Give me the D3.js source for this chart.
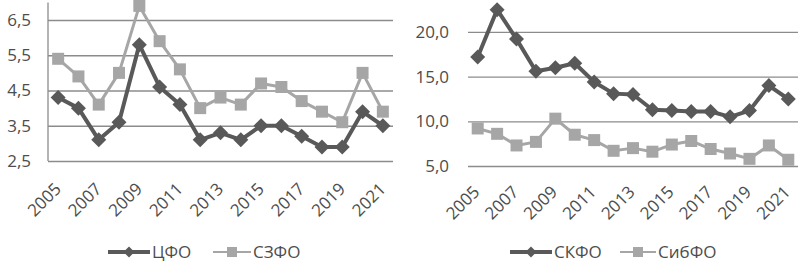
<!DOCTYPE html>
<html><head><meta charset="utf-8">
<script src="https://cdn.jsdelivr.net/npm/d3@7"></script>
<style>body{margin:0;background:#fff}svg{display:block}text{font-family:"Open Sans",sans-serif;fill:#4d4d4d}</style>
</head><body><svg id="c" width="798" height="262"></svg>
<script>
const years = [2005,2006,2007,2008,2009,2010,2011,2012,2013,2014,2015,2016,2017,2018,2019,2020,2021];
const yearLabels = [2005,2007,2009,2011,2013,2015,2017,2019,2021];
const cfo  = [4.3,4.0,3.1,3.6,5.8,4.6,4.1,3.1,3.3,3.1,3.5,3.5,3.2,2.9,2.9,3.9,3.5];
const szfo = [5.4,4.9,4.1,5.0,6.9,5.9,5.1,4.0,4.3,4.1,4.7,4.6,4.2,3.9,3.6,5.0,3.9];
const skfo = [17.2,22.5,19.2,15.6,16.0,16.5,14.4,13.1,13.0,11.3,11.2,11.1,11.1,10.5,11.2,14.0,12.5];
const sibfo= [9.2,8.6,7.3,7.7,10.3,8.5,7.9,6.7,7.0,6.6,7.4,7.8,6.9,6.4,5.8,7.3,5.7];
const leftTicks = [2.5,3.5,4.5,5.5,6.5];
const rightTicks = [5,10,15,20];
const names = {cfo:"ЦФО", szfo:"СЗФО", skfo:"СКФО", sibfo:"СибФО"};

const DARK="#595959", LIGHT="#a6a6a6", GRID="#8c8c8c";
const svg = d3.select("#c");
const fmt = v => d3.format(".1f")(v).replace(".", ",");
const diamond = r => `M0,${-r}L${r},0L0,${r}L${-r},0Z`;
const square = r => `M${-r},${-r}H${r}V${r}H${-r}Z`;

function chart(o){
  const x = d3.scaleBand().domain(years).range(o.xr).padding(0);
  const y = d3.scaleLinear().domain(o.yd).range(o.yr);
  const cx = d => x(d)+x.bandwidth()/2;
  const g = svg.append("g");
  const ga = g.append("g").attr("transform",`translate(${o.xr[0]},0)`)
    .call(d3.axisLeft(y).tickValues(o.ticks).tickSize(-(o.xr[1]-o.xr[0])).tickPadding(o.tp).tickFormat(fmt));
  ga.select(".domain").remove();
  ga.selectAll(".tick line").attr("stroke",GRID).attr("stroke-width",1.3);
  ga.selectAll(".tick text").style("font-size","17px").attr("fill","#4d4d4d");
  if(o.vaxis){
    g.append("line").attr("x1",o.xr[0]).attr("x2",o.xr[0]).attr("y1",y(o.yd[1])).attr("y2",y(o.yd[0])).attr("stroke",GRID).attr("stroke-width",1.3);
  }
  g.selectAll(".xl").data(yearLabels).join("text")
    .attr("transform",d=>`translate(${cx(d)+o.lx},${y(o.yd[0])+o.ly}) rotate(-45)`)
    .attr("text-anchor","end").style("font-size","17px").text(d=>d);
  const line = d3.line().x((d,i)=>cx(years[i])).y(d=>y(d));
  o.series.forEach(s=>{
    g.append("path").datum(s.v).attr("d",line).attr("fill","none").attr("stroke",s.c).attr("stroke-width",s.w).attr("stroke-linejoin","round");
    g.selectAll(null).data(s.v).join("path")
      .attr("transform",(d,i)=>`translate(${cx(years[i])},${y(d)})`)
      .attr("d",s.m).attr("fill",s.c);
  });
  o.legend.forEach(l=>{
    const lg = g.append("g").attr("transform",`translate(${l.x},${l.y})`);
    lg.append("line").attr("x1",0).attr("x2",l.len).attr("stroke",l.c).attr("stroke-width",l.w);
    lg.append("path").attr("transform",`translate(${l.len/2},0)`).attr("d",l.m).attr("fill",l.c);
    lg.append("text").attr("x",l.len+2).attr("y",6).style("font-size","17px").text(l.t);
  });
}

chart({xr:[48,393], yd:[2.5,7.0], yr:[161,2.4], ticks:leftTicks, tp:17, vaxis:true, lx:4, ly:29,
  series:[{v:szfo,c:LIGHT,w:3,m:square(6)},{v:cfo,c:DARK,w:4,m:diamond(7.5)}],
  legend:[{x:108,y:252,len:42,c:DARK,w:4,m:diamond(5.5),t:names.cfo},
          {x:213,y:252,len:38,c:LIGHT,w:2,m:square(5),t:names.szfo}]});
chart({xr:[468,798], yd:[5,23.5], yr:[166,0.7], ticks:rightTicks, tp:19, vaxis:false, lx:3, ly:27,
  series:[{v:sibfo,c:LIGHT,w:3,m:square(6)},{v:skfo,c:DARK,w:4,m:diamond(7.5)}],
  legend:[{x:510,y:252,len:42,c:DARK,w:4,m:diamond(5.5),t:names.skfo},
          {x:620,y:252,len:36,c:LIGHT,w:2,m:square(5),t:names.sibfo}]});
</script></body></html>
